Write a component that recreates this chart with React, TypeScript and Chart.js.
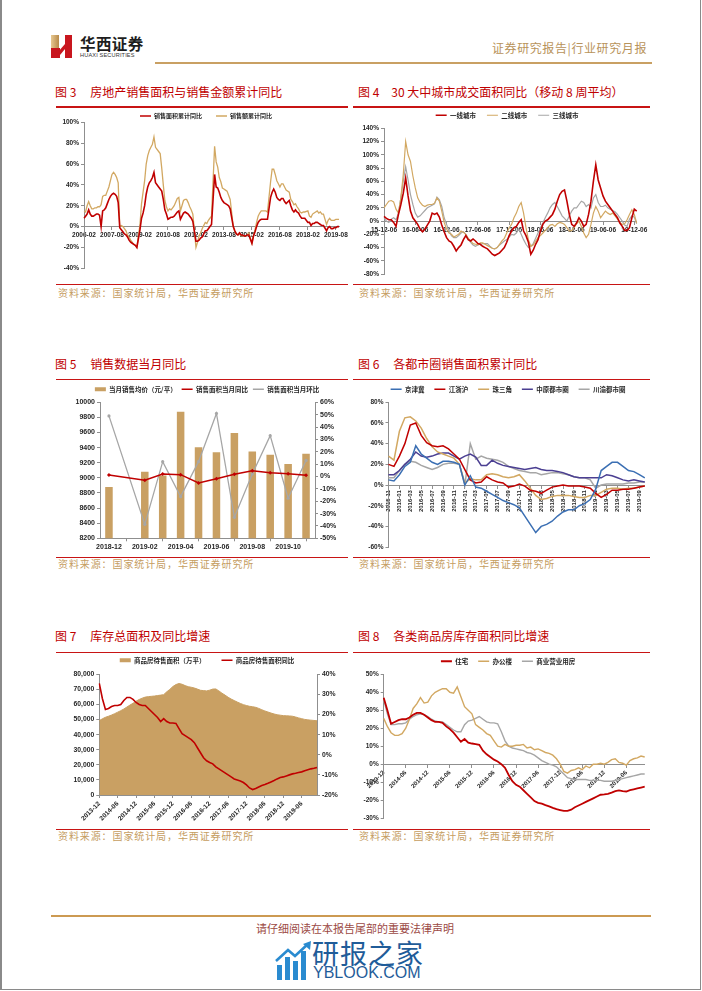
import React, { useEffect, useRef } from 'react';
import { Chart, registerables } from 'chart.js';

Chart.register(...registerables);

const RED = '#c00000';
const TAN = '#c9a063';
const TAN_LINE = '#d2a862';
const GRAY = '#a6a6a6';
const BLUE = '#3b6fb3';
const PURPLE = '#4b3f92';
const AX = '#8f8f8f';
const TXT = '#262626';
const GOLD_TXT = '#c59d5f';
const RULE = '#c81414';
const NUM = '"Liberation Sans", Arial, sans-serif';
const CJK = '"Noto Sans CJK SC", "Noto Sans", sans-serif';

// ---------- category helpers ----------
function pad2(n: number) { return String(n).padStart(2, '0'); }
function monthLabels(year: number, month: number, count: number): string[] {
  const out: string[] = [];
  for (let i = 0; i < count; i++) {
    const t = month - 1 + i;
    out.push(`${year + Math.floor(t / 12)}-${pad2((t % 12) + 1)}`);
  }
  return out;
}
function dayLabels(y: number, m: number, d: number, count: number, stepDays: number): string[] {
  const out: string[] = [];
  const base = Date.UTC(y, m - 1, d);
  for (let i = 0; i < count; i++) {
    const dt = new Date(base + i * stepDays * 86400000);
    out.push(`${String(dt.getUTCFullYear()).slice(2)}-${pad2(dt.getUTCMonth() + 1)}-${pad2(dt.getUTCDate())}`);
  }
  return out;
}

// ---------- Fig 3 ----------
const CAT3 = monthLabels(2006, 2, 165);
const LEG3 = ['销售面积累计同比', '销售额累计同比'];
const AREA_YOY3 = [
  8, 10, 12, 16, 12, 10, 10, 11, 12, 12, 11,
  0, 15, 16, 18, 22, 26, 29, 31, 32, 31, 29, 23,
  -1, -3, -5, -7, -8, -10, -13, -15, -16, -17, -18, -20,
  null, -3, 8, 13, 20, 31, 38, 42, 44, 47, 52, 42,
  null, 38, 36, 34, 26, 16, 12, 7, 8, 9, 9, 10,
  null, 14, 15, 7, 10, 13, 14, 13, 12, 10, 8, 5,
  null, -14, -14, -13, -11, -10, -7, -4, -4, -2, 0, 2,
  null, 50, 38, 37, 33, 28, 25, 23, 22, 21, 20, 17,
  null, 0, -4, -7, -8, -6, -8, -8, -9, -9, -8, -8,
  null, -16, -9, -5, 0, 4, 6, 7, 7, 7, 7, 7,
  null, 28, 33, 36, 33, 28, 26, 25, 27, 27, 24, 22,
  null, 25, 20, 16, 14, 16, 14, 13, 10, 8, 8, 8,
  null, 4, 4, 1, 3, 3, 4, 4, 3, 2, 1, 1,
  null, -4, -1, 0, -2, -2, -1, -1, 0, 0,
];
const VALUE_YOY3 = [
  15, 14, 20, 24, 20, 17, 17, 18, 18, 19, 19,
  21, 29, 30, 30, 34, 38, 44, 50, 52, 50, 47, 42,
  0, 1, 0, -2, -4, -8, -10, -13, -15, -17, -18, -20,
  null, 2, 22, 33, 44, 60, 68, 73, 76, 79, 86, 76,
  null, 72, 70, 56, 40, 25, 19, 15, 17, 16, 18, 20,
  null, 27, 28, 15, 20, 25, 26, 26, 23, 19, 16, 12,
  null, -20, -15, -9, -6, -2, 1, 4, 3, 6, 8, 10,
  null, 77, 62, 57, 47, 43, 37, 36, 35, 34, 30, 26,
  null, 0, -5, -7, -8, -7, -9, -9, -9, -9, -8, -6,
  null, -16, -9, -3, 4, 10, 13, 15, 15, 15, 15, 14,
  null, 43, 55, 55, 50, 44, 41, 38, 41, 41, 38, 35,
  null, 33, 26, 24, 21, 22, 19, 17, 14, 13, 14, 14,
  null, 15, 10, 9, 12, 13, 14, 15, 13, 14, 12, 12,
  null, 2, 6, 8, 6, 6, 6, 7, 7, 7,
];

// ---------- Fig 4 (bi-weekly points of the 8-week moving average) ----------
const CAT4 = dayLabels(2015, 12, 6, 106, 14);
const TICKS4 = ['15-12-06', '16-06-06', '16-12-06', '17-06-06', '17-12-06', '18-06-06', '18-12-06', '19-06-06', '19-12-06'];
const LEG4 = ['一线城市', '二线城市', '三线城市'];
const TIER1_4 = [
  7, 4, 2, 2, -2, -8, 10, 25, 42, 65,
  38, 15, 5, 0, -5, -12, -16, -12, -6, 0,
  12, 10, 12, 6, -6, -16, -25, -30, -32, -38,
  -45, -40, -36, -28, -22, -28, -30, -27, -30, -34,
  -35, -38, -40, -42, -46, -50, -52, -50, -48, -44,
  -40, -32, -22, -15, -10, -8, -2, 2, -15, -22,
  -32, -50, -44, -35, -28, -15, -5, 0, 2, 6,
  10, 18, 30, 40, 45, 47, 30, 10, -5, -8,
  -3, 5, 0, -8, -5, 10, 30, 60, 85, 62,
  50, 38, 30, 25, 20, 15, 10, 5, -3, -8,
  -14, -14, -10, 5, 18, 15,
];
const TIER2_4 = [
  20, 25, 30, 31, 29, 18, 12, 35, 70, 120,
  100, 90, 68, 50, 35, 28, 24, 22, 24, 25,
  25, 27, 35, 30, 15, -2, -12, -18, -20, -24,
  -22, -20, -15, -17, -20, -26, -30, -34, -35, -36,
  -33, -33, -35, -37, -39, -41, -42, -40, -35, -30,
  -26, -18, -10, -5, 5, 12, 22, 28, 12, -10,
  -28, -38, -36, -30, -25, -22, -18, -14, -10, -6,
  -5, -8, -4, -2, -3, -5, -10, -15, -14, -10,
  -4, 0, -8, -18, -25, -20, -5, 12, 22, 15,
  5, 10, 15, 12, 10, 12, 8, 3, -2, -5,
  -4, 2, 10, 17, 10, -3,
];
const TIER3_4 = [
  5, 0, -2, 3, 5, 2, 12, 35, 60, 82,
  62, 40, 25, 12, 6, 8, 12, 16, 20, 22,
  24, 26, 36, 32, 22, 5, -5, -14, -22, -25,
  -25, -22, -18, -16, -20, -27, -32, -36, -38, -36,
  -35, -34, -34, -34, -38, -41, -42, -40, -36, -33,
  -30, -28, -24, -20, -21, -18, -12, -20, -28, -35,
  -40, -38, -34, -26, -18, -10, -3, 5, 12, 20,
  25, 28, 22, 15, 8, 4, 0, 8, 15, 20,
  20, 25, 30, 28, 22, 25, 20, 35, 40, 28,
  22, 22, 24, 20, 18, 16, 14, 10, 5, 0,
  -6, -8, 3, 8, 6, -4,
];

// ---------- Fig 5 ----------
const CAT5 = monthLabels(2018, 12, 12);
const LEG5 = ['当月销售均价（元/平）', '销售面积当月同比', '销售面积当月环比'];
const PRICE5 = [8880, null, 9080, 9030, 9875, 9405, 9340, 9595, 9350, 9305, 9185, 9320];
const YOY5 = [1.2, null, -3, 2, 1.5, -5.2, -1.8, 1.8, 4.7, 3, 2.3, 1];
const MOM5 = [49, null, -38.7, 12, -16.3, 12, 51, -33, 2, 33, -17.6, 13];

// ---------- Fig 6 ----------
const CAT6 = monthLabels(2015, 11, 48);
const LEG6 = ['京津冀', '江浙沪', '珠三角', '中原都市圈', '川渝都市圈'];
const JJJ6 = [5, 4, 10, 18, 22, 38, 30, 26, 22, 20, 23, 23, 22, 20, 0, 9, -2, -3, -6, -9, -12, -15, -17, -19, -22, -30, -38, -46, -40, -38, -35, -30, -26, -24, -24, -20, -18, -14, -4, 14, 18, 22, 22, 18, 14, 13, 10, 7];
const JZH6 = [20, 18, 28, 40, 58, 60, 48, 41, 38, 37, 38, 35, 30, 25, 15, 5, 2, 3, 8, 5, 3, 2, -2, -1, 1, -1, -5, -6, -8, -5, -2, -1, 0, -1, -1, -1, -2, -3, -8, -12, -9, -5, -5, -4, -4, -3, -2, -1];
const ZSJ6 = [28, 24, 52, 65, 66, 62, 55, 45, 37, 32, 30, 28, 26, 20, 2, 6, 5, 5, 10, 11, 10, 8, 7, 8, 10, 4, -3, -10, -14, -13, -11, -10, -10, -10, -11, -12, -12, -10, -10, -7, -4, -3, -3, -4, -3, -3, -2, -1];
const ZY6 = [10, 10, 14, 20, 25, 32, 28, 27, 28, 30, 31, 31, 28, 25, 28, 30, 27, 19, 19, 24, 21, 19, 18, 17, 16, 15, 16, 17, 15, 14, 14, 13, 12, 10, 8, 7, 7, 7, 7, 7, 10, 9, 7, 5, 4, 5, 4, 3];
const CY6 = [7, 7, 14, 20, 23, 22, 19, 17, 15, 17, 20, 21, 21, 20, 0, 40, 25, 28, 26, 25, 24, 22, 18, 16, 14, 13, 12, 12, 10, 11, 12, 12, 11, 10, 8, 7, 7, 5, -3, 0, 1, 1, 1, 1, 2, 2, 3, 3];

// ---------- Fig 7 / Fig 8 ----------
const CAT78 = monthLabels(2013, 12, 72);
const LEG7 = ['商品房待售面积（万平）', '商品房待售面积同比'];
const STOCK7 = [
  49300,
  50500, 51500, 52200, 53000, 53900, 54900, 55900, 57000, 58300, 59600, 60800, 62200,
  63300, 64200, 64900, 65200, 65400, 65600, 65900, 66200, 66500, 68400, 70000, 71900,
  73200, 73900, 73400, 72500, 71800, 71400, 70900, 70200, 69400, 69200, 69000, 69500,
  70200, 70300, 69000, 67500, 66200, 64800, 63600, 62600, 61600, 60700, 59900, 59300,
  58800, 58500, 58100, 57400, 56500, 55700, 55000, 54300, 53700, 53200, 52900, 52600,
  52500, 52400, 52200, 51700, 51100, 50600, 50100, 49800, 49600, 49400, 49200,
];
const STOCK_YOY7 = [
  35.5, 28, 22.5, 23, 24, 24.5, 24.5, 25, 27, 28.5,
  28.5, 27.5, 26, 25, 24.5, 24.5, 23, 21.5, 20, 18.5,
  16.5, 18, 16.5, 15.8, 15.8, 15.6, 13, 10.5, 9.5, 8.5,
  7.5, 6, 3.5, 1, -1.5, -3, -3.8, -4.5, -6, -7,
  -8, -9, -10, -11, -12, -12.5, -13, -13.8, -15, -16.5,
  -17.3, -16.8, -16, -15.3, -14.8, -14.2, -13.5, -12.8, -12, -11.3,
  -11, -10.5, -10, -9.5, -9.2, -8.8, -8.5, -8, -7.5, -7,
  -6.7, -6.3,
];
const LEG8 = ['住宅', '办公楼', '商业营业用房'];
const HOUSE8 = [
  37, 30, 22.5, 23.5, 24.5, 25, 25, 26, 27.5, 28.5,
  28.5, 27.5, 26, 24.5, 23.5, 23.5, 23, 21, 19.5, 17.5,
  15, 12.5, 14, 12, 11.5, 11.2, 10.8, 7.5, 5.5, 4,
  2.5, 1.5, 0, -2, -6, -9.5, -11.5, -12.5, -14.5, -16.5,
  -18.5, -20.5, -21.5, -22, -22.8, -23.5, -24.3, -25, -25.5, -26,
  -26, -25.3, -24, -23, -22, -21, -20, -19, -18, -17,
  -16.8, -16.5, -15.8, -15, -14.6, -15, -15.2, -14.5, -14, -13.5,
  -13, -12.5,
];
const OFFICE8 = [
  25.5, 21, 17.5, 16, 16, 17, 20, 25, 31, 33.5,
  37, 34, 34.5, 38, 40, 41, 42, 42, 40, 39.5,
  43, 37.5, 32, 30, 28, 22, 20.5, 19, 17, 16,
  13, 10, 9.5, 11, 10, 10, 10.5, 10.5, 11, 9,
  9.5, 8, 8.5, 7.5, 6.5, 6, 5, 3, 0, -4,
  -5, -3.5, -3, -2, -3, -1, -2, 0, 0, 0.5,
  0, 1, 2.5, 3, 1, 0.5, -0.5, 2, 3, 3.5,
  4.5, 4,
];
const RETAIL8 = [
  36, 28, 22, 22, 22.5, 22.5, 23, 25, 26.5, 27.5,
  28, 27.5, 26.5, 25, 24, 23.5, 23.5, 22, 20.5, 19,
  18, 18, 22, 24, 24.5, 25.5, 26.5, 25, 23.5, 23,
  23, 22.5, 18, 13, 10, 9, 8.5, 8, 7.5, 6.5,
  6, 5, 3.5, 2, 1, 0, -0.5, -1.5, -3.5, -5.5,
  -7.5, -8, -8.5, -8.5, -8.5, -8.5, -9, -9, -9, -9,
  -9.5, -9.5, -9.5, -9, -8.5, -8, -7.5, -7, -6.5, -6,
  -5.5, -5.5,
];

// ---------- chart helpers ----------
const pct = (v: any) => `${v}%`;
const thousands = (v: any) => String(v).replace(/\B(?=(\d{3})+(?!\d))/g, ',');

function legendOpts(padding: number, size: number, styles: string[], boxHeight = 3) {
  return {
    display: true,
    position: 'top',
    labels: {
      usePointStyle: true,
      pointStyleWidth: 11,
      boxHeight,
      padding,
      color: TXT,
      font: { family: CJK, size, weight: 'bold' },
      generateLabels: (chart: any) =>
        (Chart.defaults as any).plugins.legend.labels
          .generateLabels(chart)
          .sort((a: any, b: any) => a.datasetIndex - b.datasetIndex)
          .map((it: any) => {
            const ds = chart.data.datasets[it.datasetIndex];
            const isRect = styles[it.datasetIndex] === 'rect';
            return {
              ...it,
              pointStyle: styles[it.datasetIndex],
              fillStyle: ds.backgroundColor,
              strokeStyle: ds.borderColor,
              lineWidth: isRect ? 0 : ds.borderWidth,
            };
          }),
    },
  };
}

// fixes the legend block height and shifts it horizontally
function legendFix(h: number, dx: number) {
  return {
    id: 'legendFix',
    beforeInit(chart: any) {
      const lg = chart.legend;
      const fit = lg.fit;
      lg.fit = function () {
        fit.call(this);
        this.height = h;
      };
      const draw = lg.draw;
      lg.draw = function (...args: any[]) {
        const ctx = chart.ctx;
        ctx.save();
        ctx.translate(dx, 0);
        draw.apply(this, args);
        ctx.restore();
      };
    },
  };
}

function yAxis(min: number, max: number, step: number, fmt: any, width: number, position = 'left', size = 6.5) {
  return {
    type: 'linear',
    position,
    min,
    max,
    ticks: { stepSize: step, autoSkip: false, maxTicksLimit: 40, callback: fmt, color: TXT, font: { family: NUM, size, weight: 'bold' }, padding: 2 },
    grid: { drawOnChartArea: false, drawTicks: true, tickLength: 3, color: AX },
    border: { color: AX },
    afterFit: (s: any) => { s.width = width; },
  };
}

function xAxis(labelAt: (i: number) => string | null, o: any = {}) {
  const ax: any = {
    type: 'category',
    offset: !!o.offset,
    position: o.position ?? 'bottom',
    ticks: {
      autoSkip: false,
      minRotation: o.rot || 0,
      maxRotation: o.rot || 0,
      callback: (_v: any, i: number) => labelAt(i),
      color: TXT,
      font: { family: NUM, size: o.size || 6.5, weight: 'bold' },
      padding: o.pad ?? 2,
    },
    grid: { drawOnChartArea: false, drawTicks: true, tickLength: 3, color: AX },
    border: { color: AX },
  };
  if (o.height != null) ax.afterFit = (s: any) => { s.height = o.height; };
  return ax;
}

const line = (label: string, data: any[], color: string, width = 1.3, extra: any = {}) => ({
  type: 'line',
  label,
  data,
  borderColor: color,
  backgroundColor: color,
  borderWidth: width,
  pointRadius: 0,
  spanGaps: true,
  tension: 0,
  ...extra,
});

const base = (pad: any, legend: any, scales: any) => ({
  animation: false,
  responsive: false,
  events: [],
  layout: { padding: pad },
  plugins: { legend, tooltip: { enabled: false }, title: { display: false } },
  scales,
});

const cfg3 = () => ({
  type: 'line',
  data: { labels: CAT3, datasets: [line(LEG3[0], AREA_YOY3, RED, 1.6), line(LEG3[1], VALUE_YOY3, TAN_LINE, 1.3)] },
  options: base({ left: 0, right: 11, top: 0, bottom: 9.7 }, legendOpts(14, 6, ['line', 'line']), {
    x: xAxis((i) => (i % 18 === 0 ? CAT3[i] : null), { position: { y: 0 } }),
    y: yAxis(-40, 100, 20, pct, 34),
  }),
  plugins: [legendFix(23.3, 11.5)],
});

const cfg4 = () => ({
  type: 'line',
  data: { labels: CAT4, datasets: [line(LEG4[0], TIER1_4, RED, 1.6), line(LEG4[1], TIER2_4, TAN_LINE, 1.2), line(LEG4[2], TIER3_4, GRAY, 1.2)] },
  options: base({ left: 0, right: 13.3, top: 0, bottom: 4 }, legendOpts(11, 6.5, ['line', 'line', 'line']), {
    x: xAxis((i) => (i % 13 === 0 ? TICKS4[i / 13] ?? null : null), { position: { y: 0 } }),
    y: yAxis(-80, 140, 20, pct, 32),
  }),
  plugins: [legendFix(27.3, 12.7)],
});

const cfg5 = () => ({
  type: 'bar',
  data: {
    labels: CAT5,
    datasets: [
      { type: 'bar', label: LEG5[0], data: PRICE5, backgroundColor: TAN, borderColor: TAN, borderWidth: 0, yAxisID: 'y', order: 3, barPercentage: 0.42, categoryPercentage: 1 },
      line(LEG5[1], YOY5, RED, 1.5, { yAxisID: 'y1', order: 1, pointRadius: 2, pointStyle: 'rectRot', pointBorderWidth: 0 }),
      line(LEG5[2], MOM5, GRAY, 1.3, { yAxisID: 'y1', order: 2, pointRadius: 1.6, pointStyle: 'circle', pointBorderWidth: 0 }),
    ],
  },
  options: base({ left: 0, right: 0, top: 0, bottom: 0 }, legendOpts(5, 6.5, ['rect', 'line', 'line'], 4), {
    x: xAxis((i) => (i % 2 === 0 ? CAT5[i] : null), { offset: true, height: 17.7, size: 7 }),
    y: yAxis(8200, 10000, 200, (v: any) => String(v), 50, 'left', 7),
    y1: yAxis(-50, 60, 10, pct, 35, 'right', 7),
  }),
  plugins: [legendFix(21.3, 7)],
});

const cfg6 = () => ({
  type: 'line',
  data: {
    labels: CAT6,
    datasets: [
      line(LEG6[0], JJJ6, BLUE, 1.5),
      line(LEG6[1], JZH6, RED, 1.5),
      line(LEG6[2], ZSJ6, TAN_LINE, 1.5),
      line(LEG6[3], ZY6, PURPLE, 1.5),
      line(LEG6[4], CY6, GRAY, 1.5),
    ],
  },
  options: base({ left: 0, right: 5.2, top: 0, bottom: 5.7 }, legendOpts(10, 6.5, ['line', 'line', 'line', 'line', 'line']), {
    x: xAxis((i) => (i % 2 === 0 ? CAT6[i] : null), { position: { y: 0 }, rot: 90, size: 6 }),
    y: yAxis(-60, 80, 20, pct, 36.5),
  }),
  plugins: [legendFix(26.3, 9.6)],
});

const cfg7 = () => ({
  type: 'line',
  data: {
    labels: CAT78,
    datasets: [
      line(LEG7[0], STOCK7, TAN, 1, { fill: 'origin', yAxisID: 'y', order: 2 }),
      line(LEG7[1], STOCK_YOY7, RED, 1.6, { yAxisID: 'y1', order: 1 }),
    ],
  },
  options: base({ left: 0, right: 0, top: 0, bottom: 0 }, legendOpts(16, 6.5, ['rect', 'line'], 4), {
    x: xAxis((i) => (i % 6 === 0 ? CAT78[i] : null), { rot: 45, height: 35, size: 6.5 }),
    y: yAxis(0, 80000, 10000, thousands, 49.3, 'left', 6.8),
    y1: yAxis(-20, 40, 10, pct, 33, 'right', 6.8),
  }),
  plugins: [legendFix(33.3, 7)],
});

const cfg8 = () => ({
  type: 'line',
  data: {
    labels: CAT78,
    datasets: [line(LEG8[0], HOUSE8, RED, 1.8), line(LEG8[1], OFFICE8, TAN_LINE, 1.4), line(LEG8[2], RETAIL8, GRAY, 1.4)],
  },
  options: base({ left: 0, right: 5.3, top: 0, bottom: 4.7 }, legendOpts(10, 6.5, ['line', 'line', 'line']), {
    x: xAxis((i) => (i % 6 === 0 ? CAT78[i] : null), { position: { y: 0 }, rot: 45, size: 6 }),
    y: yAxis(-30, 50, 10, pct, 31.7),
  }),
  plugins: [legendFix(26.3, 9.7)],
});

function ChartCanvas({ x, y, w, h, make }: any) {
  const ref = useRef<HTMLCanvasElement>(null);
  useEffect(() => {
    const chart = new Chart(ref.current as HTMLCanvasElement, make() as any);
    return () => chart.destroy();
  }, []);
  return <canvas ref={ref} width={w} height={h} style={{ position: 'absolute', left: x, top: y, width: w, height: h }} />;
}

const TITLES = [
  { x: 55, y: 85, no: '图 3', text: '房地产销售面积与销售金额累计同比', gap: 14 },
  { x: 358, y: 85, no: '图 4', text: '30 大中城市成交面积同比（移动 8 周平均）', gap: 12 },
  { x: 55, y: 357, no: '图 5', text: '销售数据当月同比', gap: 14 },
  { x: 358, y: 357, no: '图 6', text: '各都市圈销售面积累计同比', gap: 14 },
  { x: 55, y: 628.5, no: '图 7', text: '库存总面积及同比增速', gap: 14 },
  { x: 358, y: 628.5, no: '图 8', text: '各类商品房库存面积同比增速', gap: 14 },
];
const RULE_ROWS = [
  { top: 106, bottom: 283.5, src: 286.5 },
  { top: 378.7, bottom: 556.7, src: 557.5 },
  { top: 651.7, bottom: 828.5, src: 829.5 },
];
const SOURCE = '资料来源：国家统计局，华西证券研究所';

const abs = (s: any) => ({ position: 'absolute', ...s });

export default function App() {
  return (
    <div style={{ position: 'absolute', left: 0, top: 0, width: 702, height: 991, background: '#fff', overflow: 'hidden', fontFamily: CJK }}>
      {/* page frame */}
      <div style={abs({ left: 0, top: 0, width: 1.5, height: 990, background: '#8a8a8a' })} />
      <div style={abs({ left: 699.5, top: 0, width: 1.5, height: 990, background: '#8a8a8a' })} />
      <div style={abs({ left: 0, top: 988.5, width: 701, height: 1.5, background: '#8a8a8a' })} />

      {/* header */}
      <svg style={abs({ left: 50, top: 34 })} width={24} height={25} viewBox="0 0 24 25">
        <defs>
          <linearGradient id="hxg" x1="0" y1="0" x2="1" y2="0">
            <stop offset="0" stopColor="#e7c992" />
            <stop offset="1" stopColor="#b88a4a" />
          </linearGradient>
        </defs>
        <rect x={1} y={1} width={8} height={13} fill="url(#hxg)" />
        <rect x={1} y={14} width={9} height={10} fill="#c8161e" />
        <rect x={15} y={1} width={7} height={23} fill="#c8161e" />
        <polygon points="8,18 15,10 15,15 10,21" fill="#c8161e" />
      </svg>
      <div style={abs({ left: 80, top: 34, fontSize: 15.5, lineHeight: '18px', fontWeight: 700, color: '#1e1e1e', letterSpacing: 0.4, whiteSpace: 'nowrap' })}>华西证券</div>
      <div style={abs({ left: 80, top: 52, fontSize: 5.6, lineHeight: '7px', fontFamily: NUM, color: '#333', letterSpacing: 0.15, whiteSpace: 'nowrap' })}>HUAXI SECURITIES</div>
      <div style={abs({ right: 55, top: 40, fontSize: 12, lineHeight: '15px', color: '#b8935a', letterSpacing: 0.6, whiteSpace: 'nowrap' })}>证券研究报告|行业研究月报</div>
      <div style={abs({ left: 155, top: 61.5, width: 497, height: 2, background: '#c9a063' })} />

      {/* titles, rules and sources */}
      {TITLES.map((t) => (
        <div key={t.no} style={abs({ left: t.x, top: t.y, fontSize: 12, lineHeight: '14px', color: RED, whiteSpace: 'nowrap' })}>
          <span>{t.no}</span>
          <span style={{ marginLeft: t.gap }}>{t.text}</span>
        </div>
      ))}
      {RULE_ROWS.map((r, i) => (
        <React.Fragment key={i}>
          <div style={abs({ left: 56, top: r.top, width: 292, height: 1.5, background: RULE })} />
          <div style={abs({ left: 353, top: r.top, width: 297, height: 1.5, background: RULE })} />
          <div style={abs({ left: 56, top: r.bottom, width: 292, height: 1.5, background: RULE })} />
          <div style={abs({ left: 353, top: r.bottom, width: 297, height: 1.5, background: RULE })} />
          <div style={abs({ left: 58, top: r.src, fontSize: 10, lineHeight: '12px', color: GOLD_TXT, letterSpacing: 0.9, whiteSpace: 'nowrap' })}>{SOURCE}</div>
          <div style={abs({ left: 359, top: r.src, fontSize: 10, lineHeight: '12px', color: GOLD_TXT, letterSpacing: 0.9, whiteSpace: 'nowrap' })}>{SOURCE}</div>
        </React.Fragment>
      ))}

      {/* charts */}
      <ChartCanvas x={50} y={99} w={300} h={179} make={cfg3} />
      <ChartCanvas x={352} y={101} w={298} h={179} make={cfg4} />
      <ChartCanvas x={50} y={381} w={300} h={175} make={cfg5} />
      <ChartCanvas x={352} y={376} w={298} h={177} make={cfg6} />
      <ChartCanvas x={50} y={641} w={300} h={189} make={cfg7} />
      <ChartCanvas x={352} y={648} w={298} h={176} make={cfg8} />

      {/* footer */}
      <div style={abs({ left: 51, top: 915, width: 600, height: 2, background: '#cc9a52' })} />
      <div style={abs({ left: 0, width: 710, top: 921.5, textAlign: 'center', fontSize: 11, lineHeight: '13px', color: '#9c4a45', whiteSpace: 'nowrap' })}>请仔细阅读在本报告尾部的重要法律声明</div>
      <svg style={abs({ left: 274, top: 940 })} width={40} height={42} viewBox="0 0 40 42">
        <rect x={3} y={25} width={5} height={15} fill="#2a8bd0" />
        <rect x={11} y={17} width={5} height={23} fill="#2a8bd0" />
        <rect x={19} y={21} width={5} height={19} fill="#2a8bd0" />
        <rect x={27} y={11} width={5} height={29} fill="#2a8bd0" />
        <polyline points="2,21 14,10 21,16 34,4" fill="none" stroke="#2a8bd0" strokeWidth={2.6} />
        <polygon points="37,1 36,10 29,4" fill="#2a8bd0" />
      </svg>
      <div style={abs({ left: 312, top: 937, fontSize: 27, lineHeight: '32px', color: '#1f5c99', letterSpacing: 1, whiteSpace: 'nowrap' })}>研报之家</div>
      <div style={abs({ left: 313, top: 964, fontSize: 16, lineHeight: '18px', fontFamily: NUM, color: '#1f5c99', whiteSpace: 'nowrap' })}>YBLOOK.COM</div>
    </div>
  );
}
